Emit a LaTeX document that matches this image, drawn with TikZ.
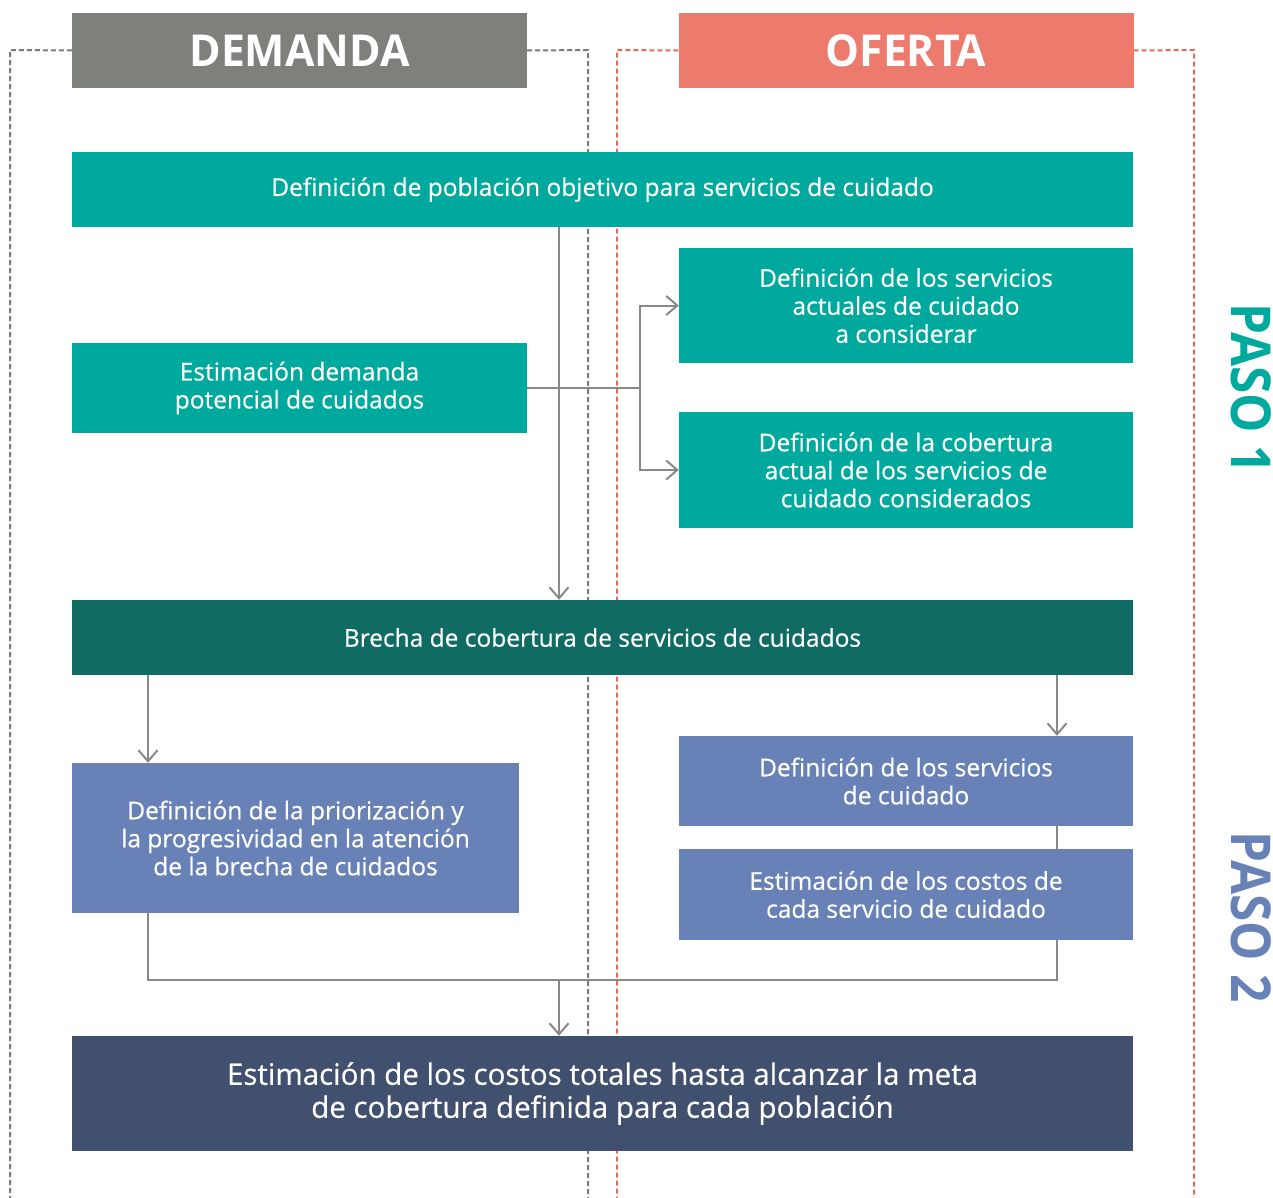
\documentclass[tikz,border=0pt]{standalone}
\usepackage{fontspec}
\setmainfont{Open Sans}
\newfontfamily\boxfont{Open Sans}[FakeBold=0.5]
\usetikzlibrary{arrows.meta}

\definecolor{hdrgray}{HTML}{7E807C}
\definecolor{hdrred}{HTML}{EC7B6E}
\definecolor{framered}{HTML}{E96A5D}
\definecolor{framegray}{HTML}{7A7A7A}
\definecolor{tealbox}{HTML}{00A99D}
\definecolor{darkteal}{HTML}{0F6B63}
\definecolor{bluebox}{HTML}{6882B8}
\definecolor{navybox}{HTML}{42506F}
\definecolor{linegray}{HTML}{888888}

\tikzset{
  box/.style={fill=#1, text=white, align=center, inner sep=0pt,
    font=\boxfont\fontsize{24.5}{28}\selectfont},
  hdr/.style={fill=#1, text=white, inner sep=0pt,
    minimum width=455pt, minimum height=75pt,
    font=\fontsize{44}{44}\selectfont\bfseries},
  frame/.style={dashed, dash pattern=on 5pt off 3pt, line width=2pt, draw=#1},
  link/.style={draw=linegray, line width=2pt},
  paso/.style={rotate=-90, text=#1, font=\fontsize{55}{55}\selectfont\bfseries}
}

\begin{document}
\begin{tikzpicture}[x=1pt, y=-1pt, >={Straight Barb[length=11pt,width=19pt]}]
    \useasboundingbox (0,0) rectangle (1273,1198);
    % headers
    \node [hdr=hdrgray] (dem) at (299.5, 50.5) {\scalebox{0.97}[1]{DEMANDA}};
    \node [hdr=hdrred]  (ofe) at (906, 50.5)   {\scalebox{0.97}[1]{OFERTA}};
    % frames
    \draw [frame=framegray] (dem.west) -- (10, 50) -- (10, 1198);
    \draw [frame=framegray] (dem.east) -- (588, 50) -- (588, 1198);
    \draw [frame=framered]  (ofe.west) -- (617, 50) -- (617, 1198);
    \draw [frame=framered]  (ofe.east) -- (1194, 50) -- (1194, 1198);
    % PASO 1
    \node [box=tealbox, minimum width=1061pt, minimum height=75pt] (pob) at (602.5, 189.5)
      {Definición de población objetivo para servicios de cuidado};
    \node [box=tealbox, minimum width=455pt, minimum height=90pt] (demp) at (299.5, 388)
      {Estimación demanda\\potencial de cuidados};
    \node [box=tealbox, minimum width=454pt, minimum height=115pt] (serv) at (906, 305.5)
      {Definición de los servicios\\actuales de cuidado\\a considerar};
    \node [box=tealbox, minimum width=454pt, minimum height=116pt] (cob) at (906, 470)
      {Definición de la cobertura\\actual de los servicios de\\cuidado considerados};
    \node [box=darkteal, minimum width=1061pt, minimum height=75pt] (brecha) at (602.5, 637.5)
      {Brecha de cobertura de servicios de cuidados};
    % PASO 2
    \node [box=bluebox, minimum width=447pt, minimum height=150pt] (prior) at (295.5, 838)
      {Definición de la priorización y\\la progresividad en la atención\\de la brecha de cuidados};
    \node [box=bluebox, minimum width=454pt, minimum height=90pt] (defs) at (906, 781)
      {Definición de los servicios\\de cuidado};
    \node [box=bluebox, minimum width=454pt, minimum height=91pt] (costos) at (906, 894.5)
      {Estimación de los costos de\\cada servicio de cuidado};
    \node [box=navybox, minimum width=1061pt, minimum height=115pt,
      font=\boxfont\fontsize{29.5}{33}\selectfont] (total) at (602.5, 1093.5)
      {Estimación de los costos totales hasta alcanzar la meta\\de cobertura definida para cada población};
    % side labels
    \node [paso=tealbox] (paso1) at (1251, 389) {\scalebox{0.9}[1]{PASO 1}};
    \node [paso=bluebox] (paso2) at (1251, 917) {\scalebox{0.9}[1]{PASO 2}};
    % links
    \coordinate (mid)   at (559, 0);
    \coordinate (split) at (640, 388);
    \coordinate (colL)  at (148, 0);
    \coordinate (colR)  at (1057, 0);
    \coordinate (join)  at (559, 980);
    \draw [link, ->] (pob.south -| mid) -- (brecha.north -| mid);
    \draw [link]     (demp.east) -- (split);
    \draw [link, ->] (split) |- (serv.west);
    \draw [link, ->] (split) |- (cob.west);
    \draw [link, ->] (brecha.south -| colL) -- (prior.north -| colL);
    \draw [link, ->] (brecha.south -| colR) -- (defs.north -| colR);
    \draw [link]     (defs.south -| colR) -- (costos.north -| colR);
    \draw [link]     (prior.south -| colL) |- (join) -| (costos.south -| colR);
    \draw [link, ->] (join) -- (total.north -| join);
\end{tikzpicture}
\end{document}
